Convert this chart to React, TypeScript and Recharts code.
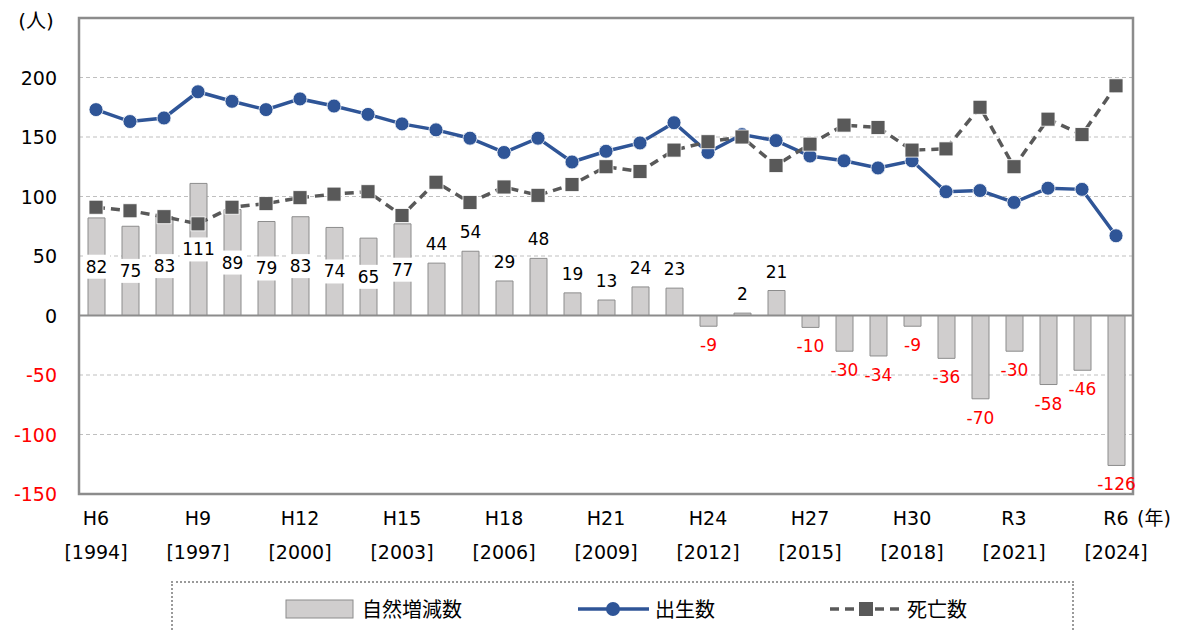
import {
	ComposedChart,
	Bar,
	Line,
	XAxis,
	YAxis,
	CartesianGrid,
	ReferenceLine,
	ReferenceArea,
	LabelList,
	Legend,
} from "recharts";

const FONT = '"DejaVu Sans", "Noto Sans CJK JP", sans-serif';

const years = [
	1994, 1995, 1996, 1997, 1998, 1999, 2000, 2001, 2002, 2003, 2004, 2005, 2006,
	2007, 2008, 2009, 2010, 2011, 2012, 2013, 2014, 2015, 2016, 2017, 2018, 2019,
	2020, 2021, 2022, 2023, 2024,
];
const eraLabels = [
	"H6", "H7", "H8", "H9", "H10", "H11", "H12", "H13", "H14", "H15", "H16",
	"H17", "H18", "H19", "H20", "H21", "H22", "H23", "H24", "H25", "H26", "H27",
	"H28", "H29", "H30", "R1", "R2", "R3", "R4", "R5", "R6",
];
// 自然増減数
const natural = [
	82, 75, 83, 111, 89, 79, 83, 74, 65, 77, 44, 54, 29, 48, 19, 13, 24, 23, -9,
	2, 21, -10, -30, -34, -9, -36, -70, -30, -58, -46, -126,
];
// 出生数
const births = [
	173, 163, 166, 188, 180, 173, 182, 176, 169, 161, 156, 149, 137, 149, 129,
	138, 145, 162, 137, 152, 147, 134, 130, 124, 130, 104, 105, 95, 107, 106, 67,
];
// 死亡数
const deaths = [
	91, 88, 83, 77, 91, 94, 99, 102, 104, 84, 112, 95, 108, 101, 110, 125, 121,
	139, 146, 150, 126, 144, 160, 158, 139, 140, 175, 125, 165, 152, 193,
];
const yTicks = [-150, -100, -50, 0, 50, 100, 150, 200];

const data = years.map((year, i) => ({
	year,
	natural: natural[i],
	births: births[i],
	deaths: deaths[i],
}));

const XTick = ({ x, y, payload, index }: any) => {
	const i = payload?.index ?? index;
	if (i % 3 !== 0) return null;
	return (
		<g fontFamily={FONT} fontSize={19} fill="#000">
			<text x={x} y={y + 24} textAnchor="middle" dominantBaseline="central">
				{eraLabels[i]}
			</text>
			{i === years.length - 1 && (
				<text x={x + 21} y={y + 24} textAnchor="start" dominantBaseline="central">
					(年)
				</text>
			)}
			<text x={x} y={y + 58} textAnchor="middle" dominantBaseline="central">
				[{years[i]}]
			</text>
		</g>
	);
};

const YTick = ({ x, y, payload }: any) => (
	<text
		x={x - 22}
		y={y}
		textAnchor="end"
		dominantBaseline="central"
		fontFamily={FONT}
		fontSize={19}
		fill={payload.value < 0 ? "#ff0000" : "#000"}
	>
		{payload.value}
	</text>
);

const UnitLabel = ({ viewBox }: any) => (
	<text
		x={36}
		y={(viewBox?.y ?? 18) + 3}
		textAnchor="middle"
		dominantBaseline="central"
		fontFamily={FONT}
		fontSize={20}
		fill="#000"
	>
		(人)
	</text>
);

const BarLabel = ({ x, y, width, height, value, index }: any) => {
	const top = Math.min(y, y + height);
	const bottom = Math.max(y, y + height);
	const cx = x + width / 2;
	const str = String(value);
	if (index < 10) {
		const cy = (top + bottom) / 2;
		const w = str.length * 10.5 + 6;
		return (
			<g>
				<rect x={cx - w / 2} y={cy - 12} width={w} height={24} fill="#fff" />
				<text
					x={cx}
					y={cy}
					textAnchor="middle"
					dominantBaseline="central"
					fontFamily={FONT}
					fontSize={17}
					fill="#000"
				>
					{str}
				</text>
			</g>
		);
	}
	const neg = value < 0;
	return (
		<text
			x={cx}
			y={neg ? bottom + 19 : top - 19}
			textAnchor="middle"
			dominantBaseline="central"
			fontFamily={FONT}
			fontSize={17}
			fill={neg ? "#ff0000" : "#000"}
		>
			{str}
		</text>
	);
};

const SquareDot = ({ cx, cy, index }: any) => (
	<rect
		key={`sq-${index}`}
		x={cx - 7}
		y={cy - 7}
		width={14}
		height={14}
		fill="#595959"
		stroke="#ffffff"
		strokeWidth={0.8}
	/>
);

const LegendBox = () => (
	<div
		style={{
			position: "relative",
			width: 903,
			height: 60,
			boxSizing: "border-box",
			border: "2px dotted #9a9a9a",
		}}
	>
		<svg
			width={903}
			height={60}
			style={{ position: "absolute", left: -2, top: -2 }}
			fontFamily={FONT}
			fontSize={20}
		>
			<rect x={115} y={19} width={67} height={18} fill="#d0cece" stroke="#8c8c8c" />
			<text x={191} y={29} dominantBaseline="central" fill="#000">
				自然増減数
			</text>
			<line x1={407} y1={28} x2={478} y2={28} stroke="#2f5597" strokeWidth={3.5} />
			<circle cx={442} cy={28} r={7} fill="#2f5597" />
			<text x={484} y={29} dominantBaseline="central" fill="#000">
				出生数
			</text>
			<line
				x1={659}
				y1={28}
				x2={732}
				y2={28}
				stroke="#595959"
				strokeWidth={3.5}
				strokeDasharray="9 6"
			/>
			<rect x={688} y={21} width={14} height={14} fill="#595959" />
			<text x={736} y={29} dominantBaseline="central" fill="#000">
				死亡数
			</text>
		</svg>
	</div>
);

const App = () => {
	return (
		<div style={{ position: "absolute", left: 0, top: 0, background: "#fff" }}>
			<ComposedChart
				width={1180}
				height={632}
				data={data}
				margin={{ top: 18, right: 47, bottom: 58, left: 0 }}
			>
				<CartesianGrid
					vertical={false}
					stroke="#bfbfbf"
					strokeDasharray="4 3"
				/>
				<XAxis
					dataKey="year"
					interval={0}
					height={80}
					tickSize={0}
					tickMargin={0}
					tickLine={false}
					axisLine={false}
					tick={<XTick />}
				/>
				<YAxis
					width={79}
					domain={[-150, 250]}
					ticks={yTicks}
					interval={0}
					tickSize={0}
					tickMargin={0}
					tickLine={false}
					axisLine={false}
					tick={<YTick />}
					label={<UnitLabel />}
				/>
				<ReferenceArea
					y1={-150}
					y2={250}
					fill="none"
					fillOpacity={0}
					stroke="#8c8c8c"
					strokeWidth={2.5}
					ifOverflow="visible"
				/>
				<ReferenceLine y={0} stroke="#8c8c8c" strokeWidth={2} />
				<Bar
					dataKey="natural"
					fill="#d0cece"
					stroke="#8c8c8c"
					strokeWidth={1}
					barSize={17}
					isAnimationActive={false}
				>
					<LabelList dataKey="natural" content={<BarLabel />} />
				</Bar>
				<Line
					dataKey="births"
					stroke="#2f5597"
					strokeWidth={3.5}
					dot={{ r: 7, fill: "#2f5597", stroke: "#ffffff", strokeWidth: 0.8 }}
					activeDot={false}
					isAnimationActive={false}
				/>
				<Line
					dataKey="deaths"
					stroke="#595959"
					strokeWidth={3.5}
					strokeDasharray="9 6"
					dot={<SquareDot />}
					activeDot={false}
					isAnimationActive={false}
				/>
				<Legend
					verticalAlign="middle"
					align="center"
					layout="horizontal"
					wrapperStyle={{ left: 171, top: 581, width: 903, height: 60, right: "auto", bottom: "auto" }}
					content={<LegendBox />}
				/>
			</ComposedChart>
		</div>
	);
};

export default App;
